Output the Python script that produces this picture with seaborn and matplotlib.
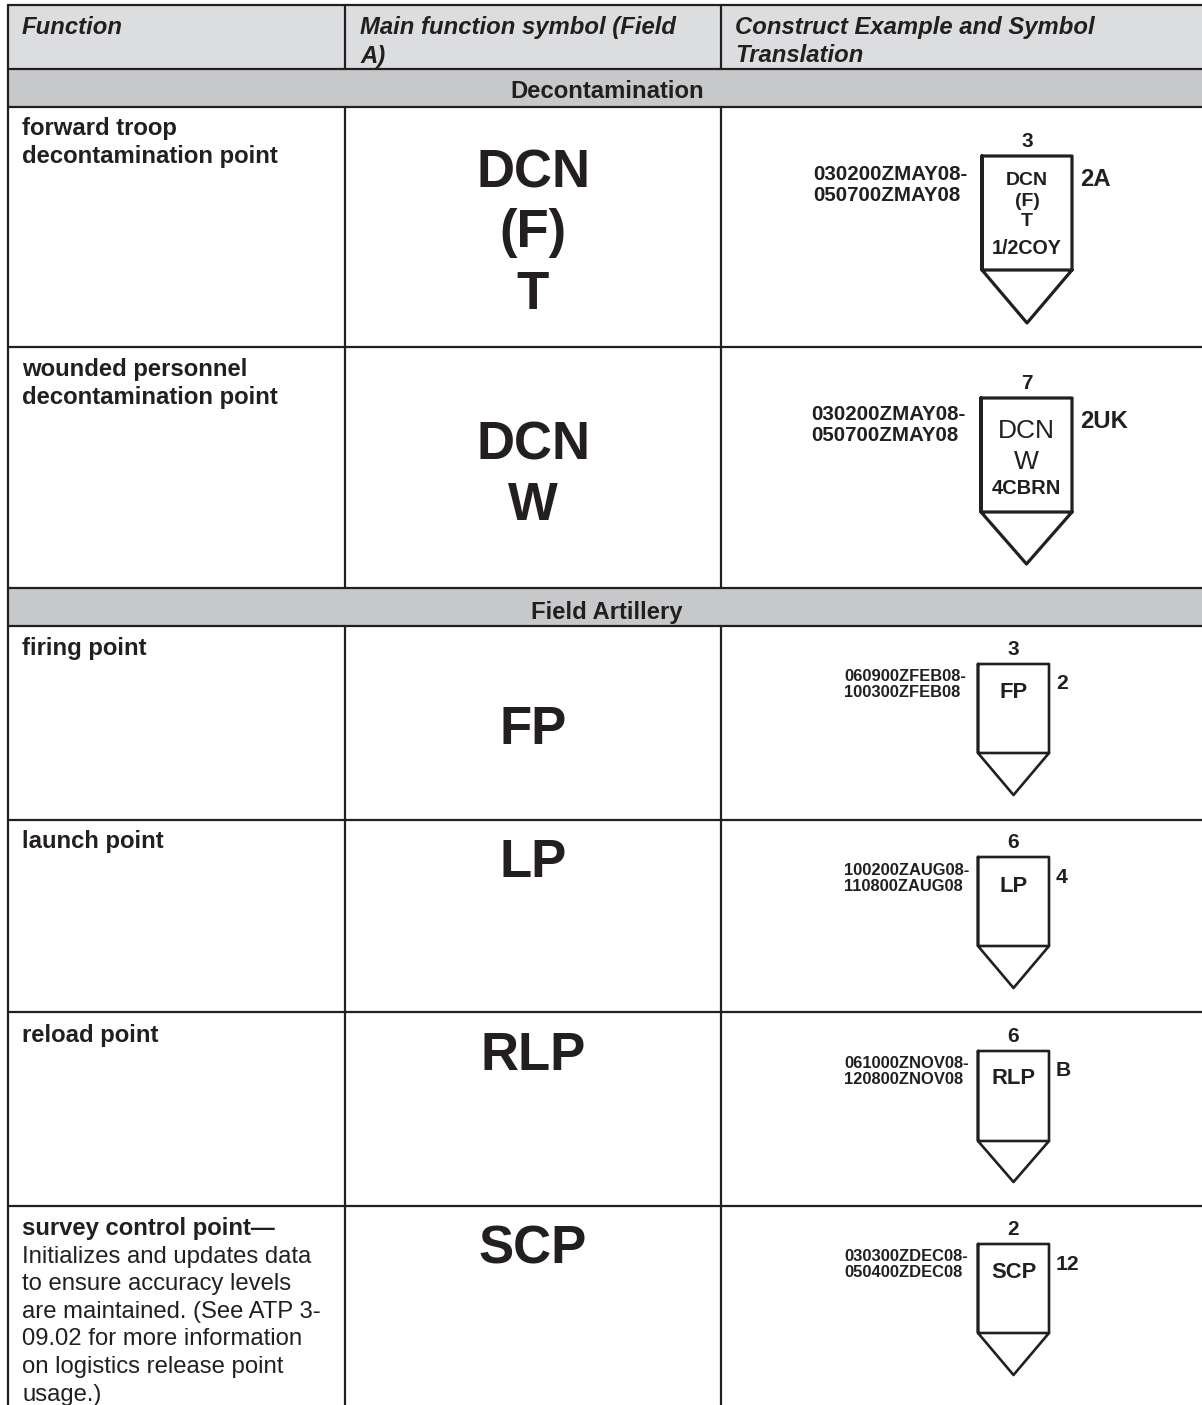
import matplotlib
matplotlib.use("Agg")
import matplotlib.pyplot as plt
import pandas as pd
import seaborn as sns

ink = "#231f20"

headers = ["Function", "Main function symbol (Field\nA)", "Construct Example and Symbol\nTranslation"]
sections = ["Decontamination", "Field Artillery"]
functions = ["forward troop\ndecontamination point", "wounded personnel\ndecontamination point",
             "firing point", "launch point", "reload point", "survey control point\u2014"]
survey_note = "Initializes and updates data\nto ensure accuracy levels\nare maintained. (See ATP 3-\n09.02 for more information\non logistics release point\nusage.)"
big_symbols = [["DCN", "(F)", "T"], ["DCN", "W"], ["FP"], ["LP"], ["RLP"], ["SCP"]]
dates = ["030200ZMAY08-\n050700ZMAY08", "030200ZMAY08-\n050700ZMAY08", "060900ZFEB08-\n100300ZFEB08",
         "100200ZAUG08-\n110800ZAUG08", "061000ZNOV08-\n120800ZNOV08", "030300ZDEC08-\n050400ZDEC08"]
top_labels = ["3", "7", "3", "6", "6", "2"]
side_labels = ["2A", "2UK", "2", "4", "B", "12"]
box_codes = ["DCN", "DCN", "FP", "LP", "RLP", "SCP"]

# pixel layout
col_x = [8, 345, 721, 1202]
row_lines = [5, 69, 107, 347, 588, 626, 820, 1012, 1206]
big_baselines = [[188, 247, 309], [459, 520], [744], [877], [1070], [1264]]
func_y = [135, 376, 655, 848, 1042, 1235]
date_x = [813, 811, 844, 844, 844, 844]
date_y = [180.5, 420.5, 681, 875, 1068, 1261]
date_size = [14.8, 14.8, 11.9, 11.9, 11.9, 11.9]
date_step = [20.5, 20.5, 16, 16, 16, 16]
side_y = [186, 428, 689, 883, 1076, 1270]
code_y = [None, None, 698, 891.5, 1084.5, 1278]
# left, right, top, shoulder, tip
symbols = [[982, 1072, 156, 270, 323], [981, 1072, 398, 512, 564], [978, 1049, 664, 753, 795],
           [978, 1049, 857, 946, 988], [978, 1049, 1051, 1141, 1182], [978, 1049, 1244, 1333, 1375]]

sns.set_theme(style="white")
plt.rcParams["font.family"] = ["Liberation Sans", "DejaVu Sans"]

fig, ax = plt.subplots(figsize=(12.02, 14.05), dpi=100)
ax.set_position([0, 0, 1, 1])
ax.set_xlim(0, 1202)
ax.set_ylim(1405, 0)
ax.axis("off")


def put(x, y, s, size, bold=True, italic=False, ha="left", step=28):
    # one text per line so the pixel spacing stays exact
    for n, line in enumerate(s.split("\n")):
        ax.text(x, y + n * step, line, ha=ha, va="baseline", fontsize=size, color=ink,
                fontweight="bold" if bold else "normal", fontstyle="italic" if italic else "normal")


ax.fill_between(col_x[:1] + col_x[-1:], row_lines[0], row_lines[1], color="#dcddde", lw=0)
ax.fill_between(col_x[:1] + col_x[-1:], row_lines[1], row_lines[2], color="#c7c8ca", lw=0)
ax.fill_between(col_x[:1] + col_x[-1:], row_lines[4], row_lines[5], color="#c7c8ca", lw=0)

# table rules
rules = []
for i, y in enumerate(row_lines):
    rules += [{"id": f"h{i}", "x": col_x[0], "y": y}, {"id": f"h{i}", "x": col_x[-1], "y": y}]
rules += [{"id": "v0", "x": col_x[0], "y": row_lines[0]}, {"id": "v0", "x": col_x[0], "y": 1405}]
spans = [(row_lines[0], row_lines[1]), (row_lines[2], row_lines[4]), (row_lines[5], 1405)]
for c in col_x[1:3]:
    for j, (a, b) in enumerate(spans):
        rules += [{"id": f"c{c}{j}", "x": c, "y": a}, {"id": f"c{c}{j}", "x": c, "y": b}]
sns.lineplot(data=pd.DataFrame(rules), x="x", y="y", units="id", estimator=None, sort=False,
             color=ink, lw=1.6, ax=ax, legend=False)

# map symbols
for i, (l, r, t, s, tip) in enumerate(symbols):
    mid = (l + r) / 2
    df = pd.DataFrame({"x": [l, r, r, l, l, l, mid, r], "y": [t, t, s, s, t, s, tip, s]})
    sns.lineplot(data=df, x="x", y="y", estimator=None, sort=False, color=ink,
                 lw=2.3 if i < 2 else 1.9, solid_capstyle="round", solid_joinstyle="round", ax=ax, legend=False)
    put(mid, t - 9, top_labels[i], 15, ha="center")
    put(r + (8 if i < 2 else 7), side_y[i], side_labels[i], 17.2 if i < 2 else 15.2)
    put(date_x[i], date_y[i], dates[i], date_size[i], step=date_step[i])
    if code_y[i]:
        put(mid, code_y[i], box_codes[i], 15.8, ha="center")

# the two crowded symbols
put(1027, 185, "DCN", 14, ha="center")
put(1027, 206, "(F)", 14, ha="center")
put(1027, 226, "T", 14, ha="center")
put(1027, 253.5, "1/2COY", 14.2, ha="center")
put(1026, 437.5, "DCN", 19, bold=False, ha="center")
put(1026, 469, "W", 19, bold=False, ha="center")
put(1026, 494, "4CBRN", 14.5, ha="center")

# header and body text
for x, h in zip(col_x, headers):
    put(x + 14 + (1 if x == 345 else 0), 34, h, 17.2, italic=True, step=28.5)
for y, s in zip([98, 619], sections):
    put(607, y, s, 17.2, ha="center")
for y, s in zip(func_y, functions):
    put(22, y, s, 17.2, step=27.6)
put(22, 1262.6, survey_note, 17.2, bold=False, step=27.6)

for lines, bases in zip(big_symbols, big_baselines):
    for s, y in zip(lines, bases):
        put(533, y, s, 38, ha="center")

fig.savefig("out.png", dpi=100)
